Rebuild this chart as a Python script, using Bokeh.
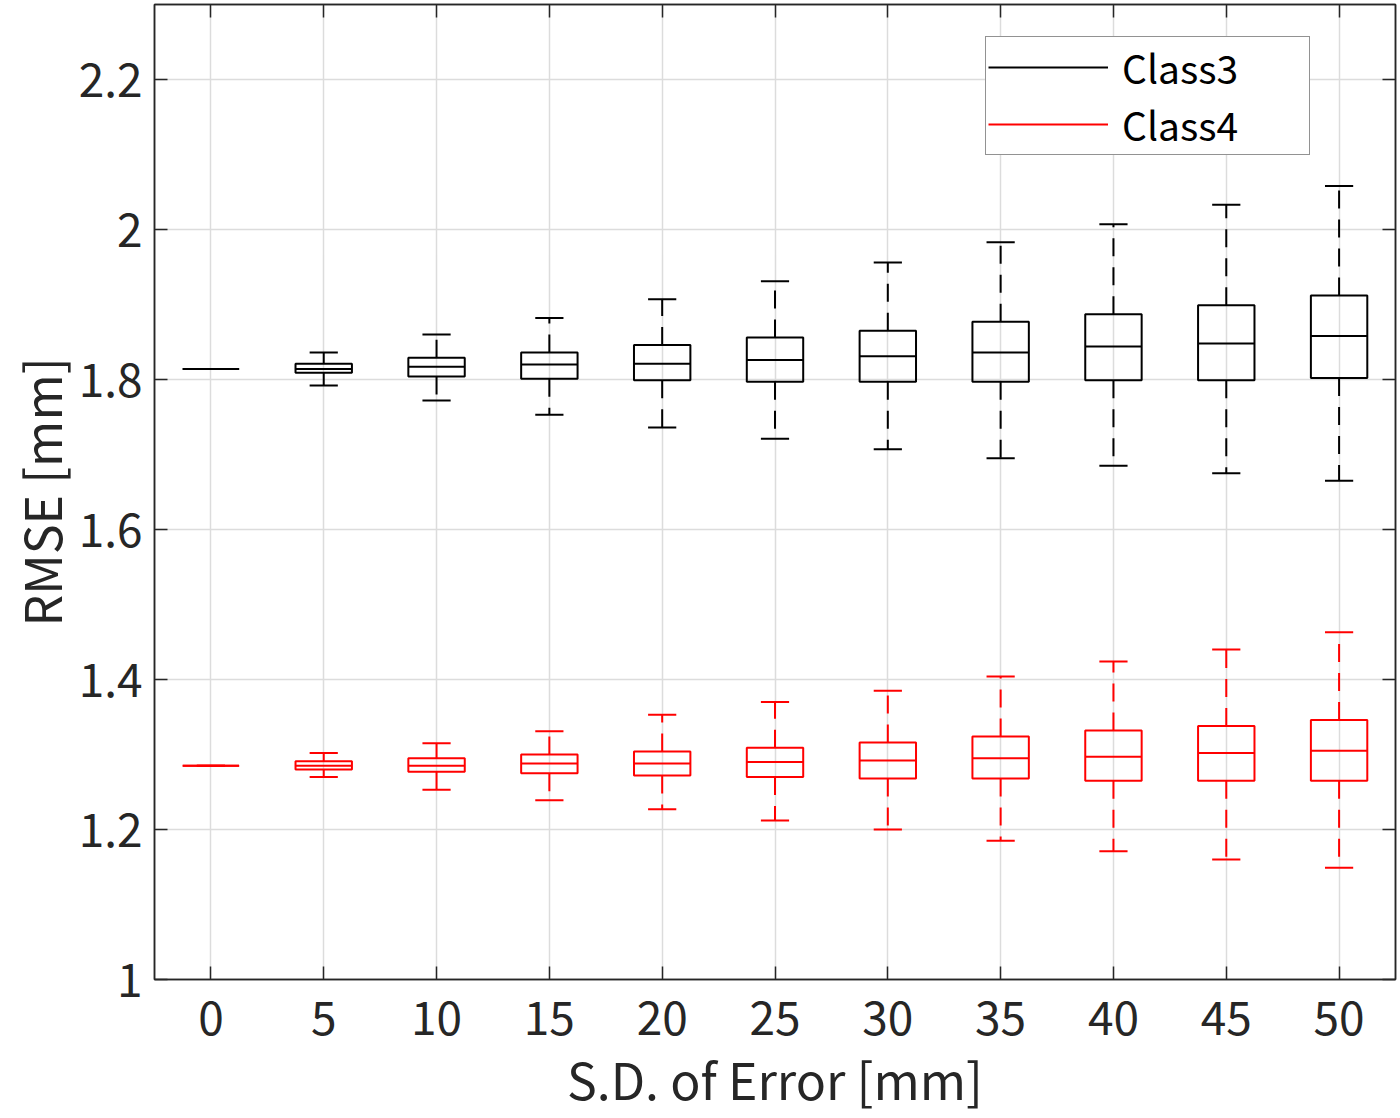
import numpy as np
from bokeh.plotting import figure
from bokeh.models import (ColumnDataSource, Range1d, FixedTicker, LinearAxis,
                          Legend, LegendItem, CustomJSTickFormatter)
from bokeh.embed import file_html
from bokeh.resources import INLINE

# ---- data ----
sd_levels = [0, 5, 10, 15, 20, 25, 30, 35, 40, 45, 50]

c3_upper = [1.814, 1.836, 1.860, 1.882, 1.907, 1.931, 1.956, 1.983, 2.007, 2.033, 2.058]
c3_q3    = [1.814, 1.821, 1.829, 1.836, 1.846, 1.856, 1.865, 1.877, 1.887, 1.899, 1.912]
c3_med   = [1.814, 1.814, 1.817, 1.820, 1.821, 1.826, 1.831, 1.836, 1.844, 1.848, 1.858]
c3_q1    = [1.814, 1.809, 1.804, 1.801, 1.799, 1.797, 1.797, 1.797, 1.799, 1.799, 1.802]
c3_lower = [1.814, 1.792, 1.772, 1.753, 1.736, 1.721, 1.707, 1.695, 1.685, 1.675, 1.665]

c4_upper = [1.285, 1.302, 1.315, 1.331, 1.353, 1.370, 1.385, 1.404, 1.424, 1.440, 1.463]
c4_q3    = [1.285, 1.291, 1.295, 1.300, 1.304, 1.309, 1.316, 1.324, 1.332, 1.338, 1.346]
c4_med   = [1.285, 1.285, 1.285, 1.288, 1.288, 1.290, 1.292, 1.295, 1.297, 1.302, 1.305]
c4_q1    = [1.285, 1.280, 1.277, 1.275, 1.272, 1.270, 1.268, 1.268, 1.265, 1.265, 1.265]
c4_lower = [1.285, 1.270, 1.253, 1.239, 1.227, 1.212, 1.200, 1.185, 1.171, 1.160, 1.149]

y_ticks = [1.0, 1.2, 1.4, 1.6, 1.8, 2.0, 2.2]
series_names = ["Class3", "Class4"]
series_colors = ["#000000", "#ff0000"]

# ---- style ----
FONT = "Noto Sans CJK JP"
AX = "#262626"
GRID = "#dcdcdc"
BOX_W = 0.5
CAP_W = 0.25

xpos = np.arange(1, len(sd_levels) + 1)

p = figure(width=1398, height=1116, output_backend="svg", toolbar_location=None,
           x_range=Range1d(0.5, len(sd_levels) + 0.5), y_range=Range1d(1.0, 2.3),
           min_border_left=153, min_border_right=3, min_border_top=4, min_border_bottom=137)
p.background_fill_color = "white"
p.border_fill_color = "white"
p.outline_line_color = AX
p.outline_line_width = 1.5

xticker = FixedTicker(ticks=list(xpos))
yticker = FixedTicker(ticks=y_ticks)
yfmt = CustomJSTickFormatter(code="return Number(tick.toFixed(1)).toString();")
xlabels = {int(xi): str(s) for xi, s in zip(xpos, sd_levels)}


def style_axis(ax, show_labels=True):
    ax.axis_line_color = AX
    ax.axis_line_width = 1.5
    ax.major_tick_line_color = AX
    ax.major_tick_line_width = 1.5
    ax.major_tick_in = 13
    ax.major_tick_out = 0
    ax.minor_tick_line_color = None
    ax.major_label_text_font = FONT
    ax.major_label_text_color = AX
    if show_labels:
        ax.major_label_text_font_size = "46px"
        ax.major_label_standoff = 12
    else:
        ax.major_label_text_font_size = "0px"
        ax.major_label_standoff = 0
        ax.major_label_text_alpha = 0


# bottom / left axes
p.xaxis.ticker = xticker
p.xaxis.major_label_overrides = xlabels
p.yaxis.ticker = yticker
p.yaxis.formatter = yfmt
style_axis(p.xaxis[0])
style_axis(p.yaxis[0])
p.xaxis.major_label_standoff = 21
p.xaxis.axis_label = "S.D. of Error [mm]"
p.yaxis.axis_label = "RMSE [mm]"
for ax in (p.xaxis[0], p.yaxis[0]):
    ax.axis_label_text_font = FONT
    ax.axis_label_text_font_size = "50px"
    ax.axis_label_text_font_style = "normal"
    ax.axis_label_text_color = AX
p.xaxis.axis_label_standoff = 4
p.yaxis.axis_label_standoff = 0

# top / right axes (ticks only)
top_ax = LinearAxis(ticker=xticker)
style_axis(top_ax, show_labels=False)
p.add_layout(top_ax, "above")
right_ax = LinearAxis(ticker=yticker, formatter=yfmt)
style_axis(right_ax, show_labels=False)
p.add_layout(right_ax, "right")

# grids
p.xgrid.ticker = xticker
p.ygrid.ticker = yticker
for g in (p.xgrid[0], p.ygrid[0]):
    g.grid_line_color = GRID
    g.grid_line_width = 1.5

legend_items = []
all_series = [
    (c3_lower, c3_q1, c3_med, c3_q3, c3_upper),
    (c4_lower, c4_q1, c4_med, c4_q3, c4_upper),
]
for name, color, (lo, q1, med, q3, up) in zip(series_names, series_colors, all_series):
    src = ColumnDataSource(dict(
        x=xpos,
        bl=xpos - BOX_W / 2, br=xpos + BOX_W / 2,
        cl=xpos - CAP_W / 2, cr=xpos + CAP_W / 2,
        lo=lo, q1=q1, med=med, q3=q3, up=up,
    ))
    # whiskers (dashed)
    p.segment(x0="x", y0="q3", x1="x", y1="up", source=src, line_color=color,
              line_width=2, line_dash="18 11")
    p.segment(x0="x", y0="q1", x1="x", y1="lo", source=src, line_color=color,
              line_width=2, line_dash="18 11")
    # caps
    p.segment(x0="cl", y0="up", x1="cr", y1="up", source=src, line_color=color, line_width=2)
    p.segment(x0="cl", y0="lo", x1="cr", y1="lo", source=src, line_color=color, line_width=2)
    # boxes
    p.quad(left="bl", right="br", bottom="q1", top="q3", source=src,
           fill_color=None, line_color=color, line_width=2)
    # medians
    r = p.segment(x0="bl", y0="med", x1="br", y1="med", source=src,
                  line_color=color, line_width=2)
    legend_items.append(LegendItem(label=name, renderers=[r]))

legend = Legend(items=legend_items, location=(831, 824))
legend.label_text_font = FONT
legend.label_text_font_size = "39px"
legend.label_text_color = "#000000"
legend.padding = 2
legend.spacing = 1
legend.margin = 0
legend.glyph_width = 120
legend.glyph_height = 40
legend.label_height = 40
legend.label_width = 185
legend.label_standoff = 14
legend.border_line_color = AX
legend.border_line_width = 1.5
legend.background_fill_color = "white"
legend.background_fill_alpha = 1.0
p.add_layout(legend, "center")

open("out.html", "w").write(file_html(p, INLINE))
